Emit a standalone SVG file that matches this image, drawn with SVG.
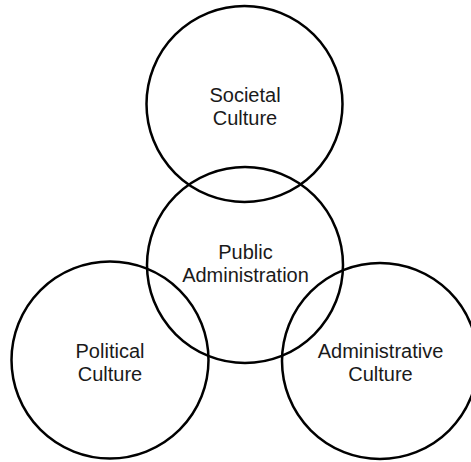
<svg xmlns="http://www.w3.org/2000/svg" width="471" height="462" viewBox="0 0 471 462">
<style>
.c{fill:none;stroke:#000;stroke-width:2.5}
.t{font-family:"Liberation Sans",Arial,sans-serif;font-size:20px;fill:#1a1a1a;text-anchor:middle}
</style>
<rect width="471" height="462" fill="#fff"/>
<g id="societal">
<circle class="c" cx="244.5" cy="104" r="98"/>
<text class="t" x="245" y="102">Societal</text>
<text class="t" x="245" y="125">Culture</text>
</g>
<g id="public">
<circle class="c" cx="245" cy="265" r="98"/>
<text class="t" x="245.5" y="258.5">Public</text>
<text class="t" x="245.5" y="281.5">Administration</text>
</g>
<g id="political">
<circle class="c" cx="110" cy="360" r="98.5"/>
<text class="t" x="110" y="358">Political</text>
<text class="t" x="110" y="381">Culture</text>
</g>
<g id="administrative">
<circle class="c" cx="380" cy="361" r="98"/>
<text class="t" x="380.5" y="358">Administrative</text>
<text class="t" x="380.5" y="381">Culture</text>
</g>
<g id="connectors"/>
</svg>
